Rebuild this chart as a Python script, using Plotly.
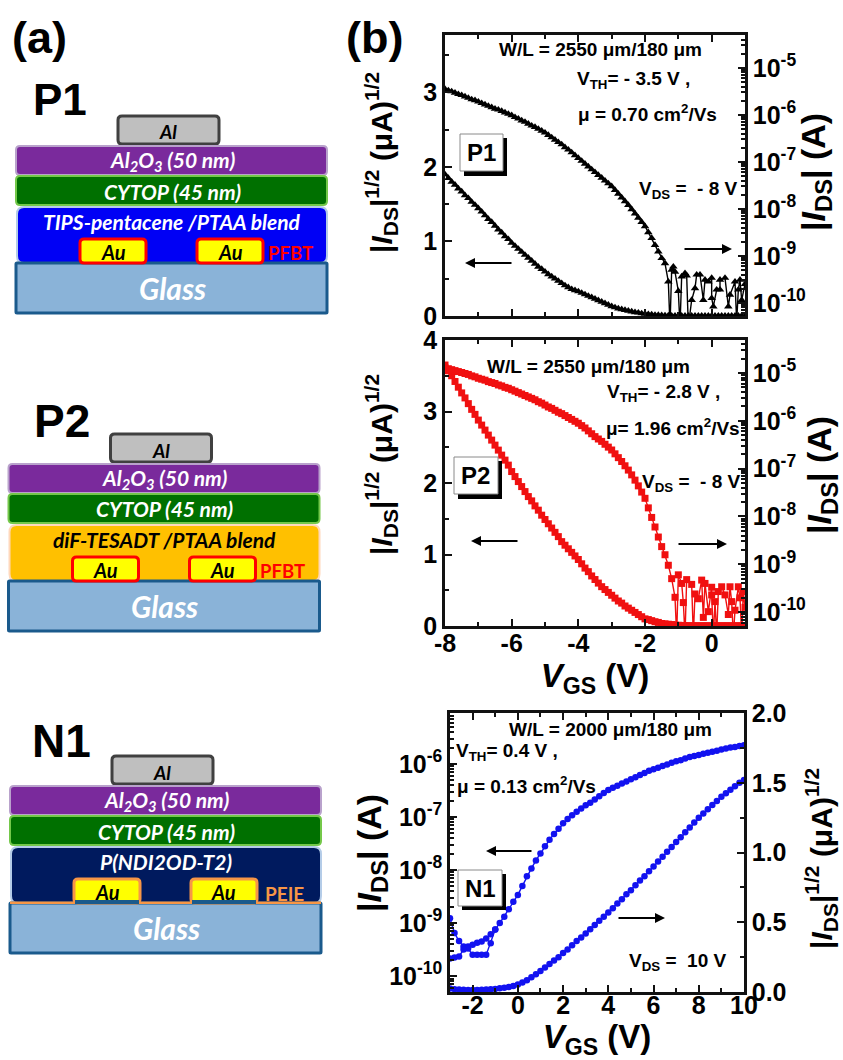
import plotly.graph_objects as go

W, H = 843, 1060
FONT = "Liberation Sans"
SCHEM = "Lato"

# ---------- sweep axes (V) ----------
VGS_P_FULL = [-8.0,-7.9,-7.8,-7.7,-7.6,-7.5,-7.4,-7.3,-7.2,-7.1,-7.0,-6.9,-6.8,-6.7,-6.6,-6.5,-6.4,-6.3,-6.2,-6.1,
              -6.0,-5.9,-5.8,-5.7,-5.6,-5.5,-5.4,-5.3,-5.2,-5.1,-5.0,-4.9,-4.8,-4.7,-4.6,-4.5,-4.4,-4.3,-4.2,-4.1,
              -4.0,-3.9,-3.8,-3.7,-3.6,-3.5,-3.4,-3.3,-3.2,-3.1,-3.0,-2.9,-2.8,-2.7,-2.6,-2.5,-2.4,-2.3,-2.2,-2.1,
              -2.0,-1.9,-1.8,-1.7,-1.6,-1.5,-1.4,-1.3,-1.2,-1.1,-1.0,-0.9,-0.8,-0.7,-0.6,-0.5,-0.4,-0.3,-0.2,-0.1,
              0.0,0.1,0.2,0.3,0.4,0.5,0.6,0.7,0.8,0.9,1.0]

# ---------- P1 ----------
P1_SQRT = [1.90,1.85,1.80,1.76,1.71,1.67,1.62,1.58,1.53,1.49,1.445,1.40,1.35,1.30,1.26,1.21,1.16,1.12,1.07,1.03,
           0.98,0.94,0.90,0.86,0.82,0.78,0.74,0.70,0.66,0.63,0.595,0.56,0.53,0.50,0.47,0.44,0.41,0.385,0.36,0.345,
           0.33,0.31,0.29,0.27,0.25,0.23,0.21,0.19,0.17,0.15,0.13,0.115,0.10,0.09,0.08,0.07,0.06,0.05,0.045,0.035,
           0.03,0.025,0.02,0.015,0.012,0.01,0.008,0.006,0.005,0.004,0.003,0.003,0.003,0.003,0.003,0.003,0.003,0.003,0.003,0.003,
           0.003,0.003,0.003,0.003,0.003,0.003,0.003,0.003,0.003,0.003,0.003]
P1_LOG_V = [-8.0,-7.9,-7.8,-7.7,-7.6,-7.5,-7.4,-7.3,-7.2,-7.1,-7.0,-6.9,-6.8,-6.7,-6.6,-6.5,-6.4,-6.3,-6.2,-6.1,
            -6.0,-5.9,-5.8,-5.7,-5.6,-5.5,-5.4,-5.3,-5.2,-5.1,-5.0,-4.9,-4.8,-4.7,-4.6,-4.5,-4.4,-4.3,-4.2,-4.1,
            -4.0,-3.9,-3.8,-3.7,-3.6,-3.5,-3.4,-3.3,-3.2,-3.1,-3.0,-2.9,-2.8,-2.7,-2.6,-2.5,-2.4,-2.3,-2.2,-2.1,
            -2.0,-1.9,-1.8,-1.7,-1.6,-1.5,-1.4,
            -1.30,-1.25,-1.20,-1.15,-1.10,-1.00,-0.95,-0.90,-0.80,-0.75,-0.70,-0.60,-0.50,-0.45,-0.35,-0.25,-0.20,-0.10,
            0.00,0.00,0.05,0.15,0.25,0.25,0.40,0.50,0.55,0.70,0.75,0.80,0.85,0.90,1.00]
P1_LOG_EXP = [-5.45,-5.48,-5.50,-5.53,-5.56,-5.58,-5.61,-5.64,-5.67,-5.69,-5.72,-5.75,-5.78,-5.81,-5.84,-5.87,-5.89,-5.92,-5.95,-5.98,
              -6.01,-6.05,-6.08,-6.12,-6.15,-6.19,-6.23,-6.26,-6.30,-6.34,-6.38,-6.43,-6.48,-6.53,-6.58,-6.63,-6.69,-6.74,-6.80,-6.86,
              -6.92,-6.98,-7.04,-7.10,-7.16,-7.22,-7.28,-7.34,-7.40,-7.46,-7.52,-7.60,-7.68,-7.76,-7.84,-7.92,-8.01,-8.10,-8.19,-8.28,
              -8.37,-8.50,-8.62,-8.77,-8.91,-9.05,-9.16,
              -9.55,-10.5,-9.30,-9.23,-9.34,-9.75,-10.5,-9.44,-9.37,-9.42,-10.5,-9.94,-9.69,-9.40,-9.40,-9.94,-9.51,-9.55,
              -9.47,-9.90,-10.08,-9.72,-9.72,-9.51,-9.47,-10.08,-9.83,-9.55,-10.4,-9.72,-9.51,-9.94,-9.60]

# ---------- P2 ----------
P2_SQRT = [3.65,3.57,3.50,3.42,3.34,3.26,3.19,3.11,3.03,2.96,2.88,2.81,2.74,2.67,2.60,2.53,2.46,2.39,2.32,2.25,
           2.16,2.09,2.02,1.95,1.88,1.81,1.75,1.68,1.62,1.55,1.49,1.43,1.37,1.31,1.25,1.18,1.13,1.08,1.03,0.98,
           0.93,0.87,0.81,0.76,0.70,0.65,0.60,0.55,0.51,0.47,0.43,0.39,0.35,0.32,0.28,0.25,0.22,0.19,0.16,0.13,
           0.10,0.09,0.075,0.06,0.05,0.035,0.03,0.025,0.02,0.015,0.01,0.008,0.006,0.005,0.004,0.004,0.004,0.004,0.004,0.004,
           0.004,0.004,0.004,0.004,0.004,0.004,0.004,0.004,0.004,0.004,0.004]
P2_LOG_V = [-8.0,-7.9,-7.8,-7.7,-7.6,-7.5,-7.4,-7.3,-7.2,-7.1,-7.0,-6.9,-6.8,-6.7,-6.6,-6.5,-6.4,-6.3,-6.2,-6.1,
            -6.0,-5.9,-5.8,-5.7,-5.6,-5.5,-5.4,-5.3,-5.2,-5.1,-5.0,-4.9,-4.8,-4.7,-4.6,-4.5,-4.4,-4.3,-4.2,-4.1,
            -4.0,-3.9,-3.8,-3.7,-3.6,-3.5,-3.4,-3.3,-3.2,-3.1,-3.0,-2.9,-2.8,-2.7,-2.6,-2.5,-2.4,-2.3,-2.2,-2.1,
            -2.0,-1.9,-1.8,-1.7,-1.6,-1.5,-1.4,-1.3,-1.2,
            -1.10,-1.05,-1.00,-0.90,-0.85,-0.80,-0.75,-0.60,-0.55,-0.50,-0.40,-0.30,-0.25,-0.20,-0.10,
            0.00,0.00,0.05,0.10,0.15,0.20,0.30,0.40,0.50,0.55,0.60,0.65,0.70,0.80,0.85,0.90,0.95,1.00]
P2_LOG_EXP = [-4.89,-4.91,-4.93,-4.95,-4.97,-4.99,-5.01,-5.03,-5.06,-5.08,-5.11,-5.13,-5.15,-5.18,-5.20,-5.22,-5.25,-5.27,-5.30,-5.32,
              -5.35,-5.38,-5.41,-5.44,-5.47,-5.50,-5.53,-5.56,-5.60,-5.63,-5.67,-5.71,-5.74,-5.78,-5.82,-5.85,-5.89,-5.93,-5.97,-6.01,
              -6.05,-6.10,-6.15,-6.21,-6.27,-6.33,-6.38,-6.43,-6.49,-6.55,-6.61,-6.69,-6.77,-6.85,-6.94,-7.03,-7.13,-7.24,-7.36,-7.49,
              -7.62,-7.82,-8.02,-8.22,-8.43,-8.63,-8.80,-9.02,-9.30,
              -9.69,-10.5,-9.22,-9.40,-9.80,-10.5,-9.32,-9.42,-10.5,-9.62,-9.72,-9.33,-10.11,-9.40,-9.99,
              -9.48,-9.64,-10.5,-9.78,-10.5,-9.57,-9.47,-9.64,-10.05,-9.47,-9.78,-10.5,-9.96,-9.47,-9.70,-10.5,-9.57,-9.90]

# ---------- N1 ----------
VGS_N = [-3.0,-2.8,-2.6,-2.4,-2.2,-2.0,-1.8,-1.6,-1.4,-1.2,-1.0,-0.8,-0.6,-0.4,-0.2,0.0,0.2,0.4,0.6,0.8,
         1.0,1.2,1.4,1.6,1.8,2.0,2.2,2.4,2.6,2.8,3.0,3.2,3.4,3.6,3.8,4.0,4.2,4.4,4.6,4.8,
         5.0,5.2,5.4,5.6,5.8,6.0,6.2,6.4,6.6,6.8,7.0,7.2,7.4,7.6,7.8,8.0,8.2,8.4,8.6,8.8,
         9.0,9.2,9.4,9.6,9.8,10.0]
N1_SQRT = [0.025,0.02,0.018,0.016,0.015,0.015,0.015,0.016,0.018,0.02,0.022,0.026,0.03,0.036,0.043,0.054,0.068,0.085,0.105,0.128,
           0.15,0.175,0.20,0.225,0.25,0.28,0.305,0.335,0.365,0.39,0.42,0.45,0.48,0.51,0.54,0.57,0.60,0.635,0.665,0.70,
           0.73,0.765,0.80,0.83,0.865,0.90,0.935,0.97,1.005,1.04,1.075,1.11,1.145,1.18,1.215,1.25,1.28,1.31,1.34,1.37,
           1.40,1.425,1.45,1.475,1.50,1.52]
N1_LOG_EXP = [-8.91,-9.19,-9.34,-9.44,-9.44,-9.41,-9.37,-9.35,-9.29,-9.21,-9.12,-9.00,-8.88,-8.74,-8.60,-8.47,-8.30,-8.12,-7.97,-7.82,
              -7.69,-7.55,-7.43,-7.32,-7.22,-7.12,-7.04,-6.97,-6.90,-6.84,-6.78,-6.73,-6.67,-6.61,-6.55,-6.49,-6.45,-6.41,-6.37,-6.33,
              -6.29,-6.25,-6.21,-6.17,-6.13,-6.10,-6.07,-6.04,-6.01,-5.98,-5.95,-5.93,-5.90,-5.87,-5.85,-5.83,-5.81,-5.79,-5.77,-5.75,
              -5.73,-5.71,-5.69,-5.68,-5.66,-5.65]
N1_RET_V = [-1.0,-1.2,-1.4,-1.6,-1.8,-2.0,-2.2,-2.4,-2.6,-2.8,-3.0]
N1_RET_EXP = [-9.12,-9.38,-9.60,-9.60,-9.60,-9.60,-9.48,-9.50,-9.63,-9.65,-9.67]

# ---------- tick labels ----------
VGS_P_TICKS = [-8, -6, -4, -2, 0]
VGS_P_LABELS = ["-8", "-6", "-4", "-2", "0"]
VGS_N_TICKS = [-2, 0, 2, 4, 6, 8, 10]
VGS_N_LABELS = ["-2", "0", "2", "4", "6", "8", "10"]
LOG_P_EXP = [-10, -9, -8, -7, -6, -5]
LOG_N_EXP = [-10, -9, -8, -7, -6]


def px(x):
    return x / W


def py(y):
    return 1 - y / H


def log_labels(exps):
    return [f"10<sup>{e}</sup>" for e in exps]


def pow10(exps):
    return [10.0 ** e for e in exps]


tickfont = dict(family=FONT, size=25, color="black", weight="bold")
AXC = "#111111"
LW = 2.5


def base_axis(**kw):
    d = dict(showline=True, linecolor=AXC, linewidth=LW, showgrid=False, zeroline=False,
             ticks="inside", tickcolor=AXC, tickwidth=2, ticklen=7, tickfont=tickfont)
    d.update(kw)
    return d


minor_lin = lambda dt: dict(ticks="inside", dtick=dt, ticklen=4, tickwidth=1.5, tickcolor=AXC, showgrid=False)
minor_log = dict(ticks="inside", dtick="D1", ticklen=4, tickwidth=1.5, tickcolor=AXC, showgrid=False)

title_x = dict(text="<i>V</i><sub>GS</sub> (V)", font=dict(family=FONT, size=33, color="black", weight="bold"), standoff=4)

layout = dict(
    width=W, height=H, margin=dict(l=0, r=0, t=0, b=0, autoexpand=False),
    paper_bgcolor="white", plot_bgcolor="white", showlegend=False,
    xaxis=base_axis(domain=[px(445), px(745)], range=[-8, 1], anchor="y", mirror="ticks",
                    tickmode="array", tickvals=VGS_P_TICKS, ticktext=VGS_P_LABELS, showticklabels=False,
                    minor=minor_lin(1)),
    yaxis=base_axis(domain=[py(316), py(35)], range=[0, 3.77], anchor="x", dtick=1, tick0=0, minor=minor_lin(0.5)),
    yaxis2=base_axis(domain=[py(316), py(35)], type="log", range=[-10.28, -4.3], anchor="x", overlaying="y", side="right",
                     tickmode="array", tickvals=pow10(LOG_P_EXP), ticktext=log_labels(LOG_P_EXP), minor=minor_log),
    xaxis2=base_axis(domain=[px(445), px(745)], range=[-8, 1], anchor="y3", mirror="ticks", ticklabelstandoff=-7,
                     tickmode="array", tickvals=VGS_P_TICKS, ticktext=VGS_P_LABELS, minor=minor_lin(1), title=title_x),
    yaxis3=base_axis(domain=[py(626), py(340)], range=[0, 4], anchor="x2", dtick=1, tick0=0, minor=minor_lin(0.5)),
    yaxis4=base_axis(domain=[py(626), py(340)], type="log", range=[-10.29, -4.31], anchor="x2", overlaying="y3", side="right",
                     tickmode="array", tickvals=pow10(LOG_P_EXP), ticktext=log_labels(LOG_P_EXP), minor=minor_log),
    xaxis3=base_axis(domain=[px(450), px(744)], range=[-3, 10], anchor="y5", mirror="ticks", ticklabelstandoff=-11,
                     tickmode="array", tickvals=VGS_N_TICKS, ticktext=VGS_N_LABELS, minor=minor_lin(1), title=title_x),
    yaxis5=base_axis(domain=[py(992), py(713)], type="log", range=[-10.3, -5.04], anchor="x3",
                     tickmode="array", tickvals=pow10(LOG_N_EXP), ticktext=log_labels(LOG_N_EXP), minor=minor_log),
    yaxis6=base_axis(domain=[py(992), py(713)], range=[0, 2], anchor="x3", overlaying="y5", side="right",
                     dtick=0.5, tick0=0, tickformat=".1f", minor=minor_lin(0.25)),
)

fig = go.Figure()


def add(xs, ys, xa, ya, color, sym, size):
    fig.add_trace(go.Scatter(x=xs, y=ys, xaxis=xa, yaxis=ya, mode="lines+markers",
                             line=dict(color=color, width=1.4),
                             marker=dict(color=color, symbol=sym, size=size)))


BLUE = "#1212f0"
RED = "#f01010"
add(VGS_P_FULL, P1_SQRT, "x", "y", "black", "triangle-up", 7.5)
add(P1_LOG_V, pow10(P1_LOG_EXP), "x", "y2", "black", "triangle-up", 7.5)
add(VGS_P_FULL, P2_SQRT, "x2", "y3", RED, "square", 7)
add(P2_LOG_V, pow10(P2_LOG_EXP), "x2", "y4", RED, "square", 7)
add(VGS_N, pow10(N1_LOG_EXP), "x3", "y5", BLUE, "circle", 6.5)
add(N1_RET_V, pow10(N1_RET_EXP), "x3", "y5", BLUE, "circle", 6.5)
add(VGS_N, N1_SQRT, "x3", "y6", BLUE, "circle", 6.5)

# ---------- schematic geometry (pixels) ----------
shapes, ann = [], []


def rrect(x0, y0, x1, y1, fill, edge, lw=2, r=4, layer="above"):
    path = (f"M {px(x0+r)},{py(y0)} L {px(x1-r)},{py(y0)} Q {px(x1)},{py(y0)} {px(x1)},{py(y0+r)} "
            f"L {px(x1)},{py(y1-r)} Q {px(x1)},{py(y1)} {px(x1-r)},{py(y1)} "
            f"L {px(x0+r)},{py(y1)} Q {px(x0)},{py(y1)} {px(x0)},{py(y1-r)} "
            f"L {px(x0)},{py(y0+r)} Q {px(x0)},{py(y0)} {px(x0+r)},{py(y0)} Z")
    shapes.append(dict(type="path", path=path, xref="paper", yref="paper", fillcolor=fill,
                       line=dict(color=edge, width=lw), layer=layer))


def rect(x0, y0, x1, y1, fill, edge=None, lw=0):
    shapes.append(dict(type="rect", xref="paper", yref="paper", x0=px(x0), x1=px(x1), y0=py(y1), y1=py(y0),
                       fillcolor=fill, line=dict(color=edge or fill, width=lw), layer="above"))


def txt(x, y, s, size, color="black", family=FONT, bold=True, angle=0, anchor="center"):
    ann.append(dict(x=px(x), y=py(y), xref="paper", yref="paper", text=s, showarrow=False,
                    textangle=angle, xanchor=anchor, yanchor="middle",
                    font=dict(family=family, size=size, color=color, weight="bold" if bold else "normal")))


def arrow(x_tail, x_head, y):
    ann.append(dict(x=px(x_head), y=py(y), xref="paper", yref="paper", text="", showarrow=True,
                    ax=x_tail - x_head, ay=0, axref="pixel", ayref="pixel", arrowhead=2, arrowsize=1,
                    arrowwidth=2, arrowcolor="black"))


def device(dx, dy, active_fill, active_edge, active_text, active_color, au_edge, tag, tag_color, tag_size, n_type=False):
    rrect(118+dx, 116+dy, 219+dx, 144+dy, "#bfbfbf", "#404040", 3)
    rrect(16+dx, 146+dy, 327+dx, 175+dy, "#7a2a9c", "#b9a2cc", 2)
    rrect(16+dx, 176+dy, 327+dx, 205+dy, "#007000", "#74c84a", 2)
    rrect(17+dx, 207+dy, 327+dx, 263+dy, active_fill, active_edge, 2, 7)
    rrect(16+dx, 263+dy, 327+dx, 313+dy, "#8ab3d8", "#1a5a8c", 3, 1)
    if n_type:
        rect(16+dx, 261.5+dy, 327+dx, 264+dy, "#f79646")
    for x0, x1 in ((80, 146), (197, 263)):
        rrect(x0+dx, 239+dy, x1+dx, 263+dy, "#ffff00", au_edge, 3, 4)
        if n_type:
            rect(x0+dx+1, 260+dy, x1+dx-1, 264+dy, "#1a5a8c")
        txt((x0+x1)/2+dx, 252+dy, "<i>Au</i>", 20, family=SCHEM)
    txt(168+dx, 132+dy, "<i>Al</i>", 19, family=SCHEM)
    txt(172+dx, 161+dy, "<i>Al<sub>2</sub>O<sub>3</sub> (50 nm)</i>", 21, "white", SCHEM)
    txt(172+dx, 191+dy, "<i>CYTOP (45 nm)</i>", 21, "white", SCHEM)
    txt(172+dx, 221+dy, f"<i>{active_text}</i>", 21, active_color, SCHEM)
    txt(290+dx, 253+dy, tag, tag_size, tag_color, SCHEM)
    txt(172+dx, 288+dy, "<i>Glass</i>", 30, "white", SCHEM)


device(0, 0, "#0000f5", "#b4cce8", "TIPS-pentacene /PTAA blend", "white", "#ff0000", "PFBT", "#ff0000", 18.5)
device(-7.5, 318, "#ffc000", "#ffd8bc", "diF-TESADT /PTAA blend", "black", "#ff0000", "PFBT", "#ff0000", 18.5)
device(-6, 640, "#001a5e", "#b4cce8", "P(NDI2OD-T2)", "white", "#f79646", "PEIE", "#f79646", 19, n_type=True)

txt(39, 38, "(a)", 45)
txt(374, 38, "(b)", 45)
txt(60, 100, "P1", 44)
txt(62, 421, "P2", 46)
txt(61, 741, "N1", 46)


def tagbox(x0, y0, x1, y1, sx, sy, s):
    rect(x0+4, y0+4, sx, sy, "black")
    rect(x0, y0, x1, y1, "white", "#8a8a8a", 1)
    txt((x0+x1)/2, (y0+y1)/2, s, 24)


tagbox(460, 134, 503, 171, 507, 176, "P1")
tagbox(454, 457, 498, 494, 502, 499, "P2")
tagbox(458, 870, 502, 906, 506, 910, "N1")

MU = "\u03bc"
for x, y, s in [
    (600, 50, f"W/L = 2550 {MU}m/180 {MU}m"),
    (633, 80, "V<sub>TH</sub>= - 3.5 V ,"),
    (647, 113, f"{MU} = 0.70 cm<sup>2</sup>/Vs"),
    (688, 190, "V<sub>DS</sub> =  - 8 V"),
    (588, 366, f"W/L = 2550 {MU}m/180 {MU}m"),
    (663, 393, "V<sub>TH</sub>= - 2.8 V ,"),
    (673, 427, f"{MU}= 1.96 cm<sup>2</sup>/Vs"),
    (691, 483, "V<sub>DS</sub> =  - 8 V"),
    (610, 729, f"W/L = 2000 {MU}m/180 {MU}m"),
    (507, 752, "V<sub>TH</sub>= 0.4 V ,"),
    (526, 785, f"{MU} = 0.13 cm<sup>2</sup>/Vs"),
    (678, 962, "V<sub>DS</sub> =  10 V"),
]:
    txt(x, y, s, 19)

arrow(513, 465, 263)
arrow(683, 732, 249)
arrow(519, 471, 541)
arrow(677, 727, 544)
arrow(533, 486, 851)
arrow(617, 665, 918)

SQ_TITLE = f"|<i>I</i><sub>DS</sub>|<sup>1/2</sup> ({MU}A)<sup>1/2</sup>"
LOG_TITLE = "|<i>I</i><sub>DS</sub>| (A)"
for x, y, s in [(381, 163, SQ_TITLE), (381, 465, SQ_TITLE), (821, 859, SQ_TITLE)]:
    txt(x, y, s, 30, angle=-90)
for x, y, s in [(816, 172, LOG_TITLE), (821, 475, LOG_TITLE), (371, 853, LOG_TITLE)]:
    txt(x, y, s, 34, angle=-90)

layout["shapes"] = shapes
layout["annotations"] = ann
fig.update_layout(**layout)
fig.write_html("out.html", post_script="document.body.style.margin='0';", config={"displayModeBar": False})
